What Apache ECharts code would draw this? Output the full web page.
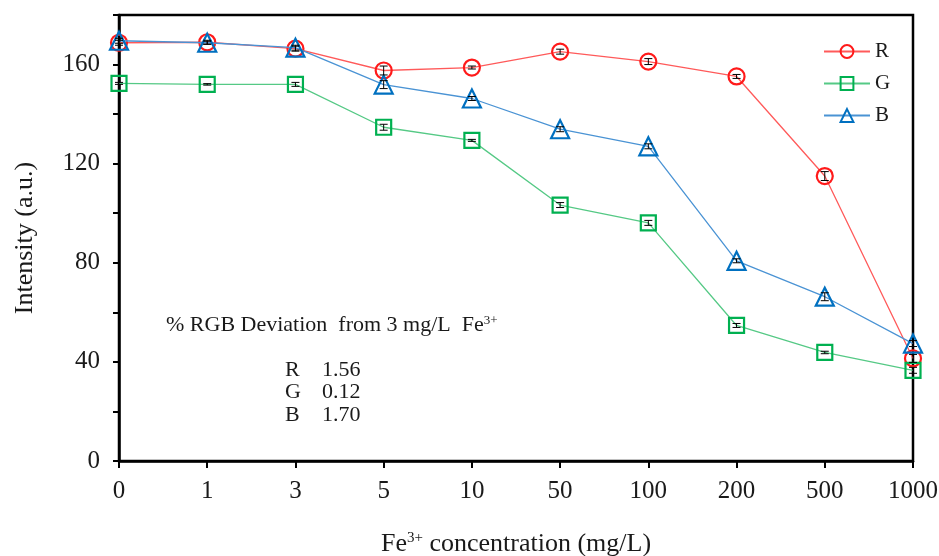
<!DOCTYPE html>
<html>
<head>
<meta charset="utf-8">
<script src="https://cdn.jsdelivr.net/npm/echarts@6/dist/echarts.min.js"></script>
<style>
  html, body { margin: 0; padding: 0; background: #fff; }
  #chart { width: 939px; height: 556px; }
</style>
</head>
<body>
<div id="chart"></div>
<script>
// Fe3+ concentrations (mg/L), shown as evenly spaced categories
const concentrations = ['0', '1', '3', '5', '10', '50', '100', '200', '500', '1000'];

// Mean channel intensities (a.u.)
const rValues = [168.8, 169.0, 166.4, 157.6, 158.8, 165.2, 161.2, 155.2, 115.0, 41.4];
const gValues = [152.4, 152.0, 152.0, 134.7, 129.4, 103.3, 96.1, 54.7, 43.8, 36.6];
const bValues = [169.6, 168.8, 166.8, 151.9, 146.3, 133.9, 127.0, 80.8, 66.3, 47.4];

// Standard deviations for the error bars
const rErrors = [1.0, 0.8, 1.0, 1.8, 0.6, 1.0, 1.2, 0.8, 1.8, 1.6];
const gErrors = [0.4, 0.3, 0.8, 1.2, 0.4, 1.0, 1.0, 0.8, 0.5, 1.2];
const bErrors = [1.0, 0.6, 1.0, 1.6, 0.8, 1.0, 1.0, 0.8, 1.6, 1.2];

// % deviation table printed inside the plot
const deviationLabels = ['R', 'G', 'B'];
const deviationValues = ['1.56', '0.12', '1.70'];

const yTicks = [0, 40, 80, 120, 160];

const FONT = '"Liberation Serif", "Times New Roman", serif';
const TEXT = '#1a1a1a';

function errorSeries(name, values, errors) {
  return {
    type: 'custom',
    name: name + ' err',
    z: 5,
    silent: true,
    data: values.map((v, i) => [i, v - errors[i], v + errors[i]]),
    renderItem: function (params, api) {
      const lo = api.coord([api.value(0), api.value(1)]);
      const hi = api.coord([api.value(0), api.value(2)]);
      const w = 4;
      const style = { stroke: '#000', lineWidth: 1 };
      return {
        type: 'group',
        children: [
          { type: 'line', shape: { x1: hi[0], y1: hi[1], x2: lo[0], y2: lo[1] }, style },
          { type: 'line', shape: { x1: hi[0] - w, y1: hi[1], x2: hi[0] + w, y2: hi[1] }, style },
          { type: 'line', shape: { x1: lo[0] - w, y1: lo[1], x2: lo[0] + w, y2: lo[1] }, style }
        ]
      };
    }
  };
}

function lineSeries(name, values, lineColor, markColor, symbol, size, z) {
  return {
    type: 'line',
    name: name,
    data: values,
    z: z,
    symbol: symbol,
    symbolSize: size,
    showAllSymbol: true,
    lineStyle: { color: lineColor, width: 1.3 },
    itemStyle: { color: 'rgba(255,255,255,0)', borderColor: markColor, borderWidth: 2.2 },
    emphasis: { disabled: true }
  };
}

const chart = echarts.init(document.getElementById('chart'), null, { renderer: 'canvas' });

chart.setOption({
  backgroundColor: '#fff',
  animation: false,
  textStyle: { fontFamily: FONT },
  grid: {
    left: 119, right: 26, top: 15, bottom: 95,
    outerBoundsMode: 'none',
    containLabel: false,
    show: true, borderColor: '#000', borderWidth: 2.5, backgroundColor: 'transparent'
  },
  legend: {
    orient: 'vertical',
    left: 818,
    top: 36,
    itemWidth: 46,
    itemHeight: 16,
    itemGap: 11,
    data: ['R', 'G', 'B'],
    textStyle: { fontFamily: FONT, fontSize: 21, color: TEXT }
  },
  xAxis: {
    type: 'category',
    data: concentrations,
    boundaryGap: false,
    axisLine: { lineStyle: { color: '#000', width: 2.5 } },
    axisTick: { show: true, inside: false, length: 7, alignWithLabel: true, lineStyle: { color: '#000', width: 2 } },
    axisLabel: { fontFamily: FONT, fontSize: 25, color: TEXT, margin: 18 },
    splitLine: { show: false },
    name: '{a|Fe}{s|3+}{a| concentration (mg/L)}',
    nameLocation: 'middle',
    nameGap: 70,
    nameTextStyle: {
      rich: {
        a: { fontFamily: FONT, fontSize: 26, color: TEXT },
        s: { fontFamily: FONT, fontSize: 15, color: TEXT, verticalAlign: 'bottom', padding: [0, 0, 12, 0] }
      }
    }
  },
  yAxis: {
    type: 'value',
    min: 0,
    max: 180,
    interval: 20,
    axisLine: { show: true, lineStyle: { color: '#000', width: 2.5 } },
    axisTick: { show: true, inside: false, length: 6, lineStyle: { color: '#000', width: 2 } },
    axisLabel: {
      fontFamily: FONT, fontSize: 25, color: TEXT, margin: 19,
      formatter: function (v) { return yTicks.indexOf(v) >= 0 ? String(v) : ''; }
    },
    splitLine: { show: false },
    name: 'Intensity (a.u.)',
    nameLocation: 'middle',
    nameGap: 81,
    nameTextStyle: { fontFamily: FONT, fontSize: 26, color: TEXT }
  },
  graphic: [
    {
      type: 'text',
      left: 166,
      top: 314,
      style: {
        text: '{a|% RGB Deviation  from 3 mg/L  Fe}{s|3+}',
        rich: {
          a: { fontFamily: FONT, fontSize: 22, fill: TEXT },
          s: { fontFamily: FONT, fontSize: 13, fill: TEXT, verticalAlign: 'bottom', padding: [0, 0, 10, 0] }
        }
      }
    },
    ...deviationLabels.map((lab, i) => ({
      type: 'text',
      left: 285,
      top: 359 + i * 22.5,
      style: { text: lab, fontFamily: FONT, fontSize: 22, fill: TEXT }
    })),
    ...deviationValues.map((val, i) => ({
      type: 'text',
      left: 322,
      top: 359 + i * 22.5,
      style: { text: val, fontFamily: FONT, fontSize: 22, fill: TEXT }
    }))
  ],
  series: [
    lineSeries('R', rValues, '#ff5a5a', '#ff1a1a', 'circle', 16, 2),
    lineSeries('G', gValues, '#55c985', '#00b050', 'rect', 15, 3),
    lineSeries('B', bValues, '#4a93d4', '#0070c0', 'triangle', 18, 4),
    errorSeries('R', rValues, rErrors),
    errorSeries('G', gValues, gErrors),
    errorSeries('B', bValues, bErrors)
  ]
});
</script>
</body>
</html>
